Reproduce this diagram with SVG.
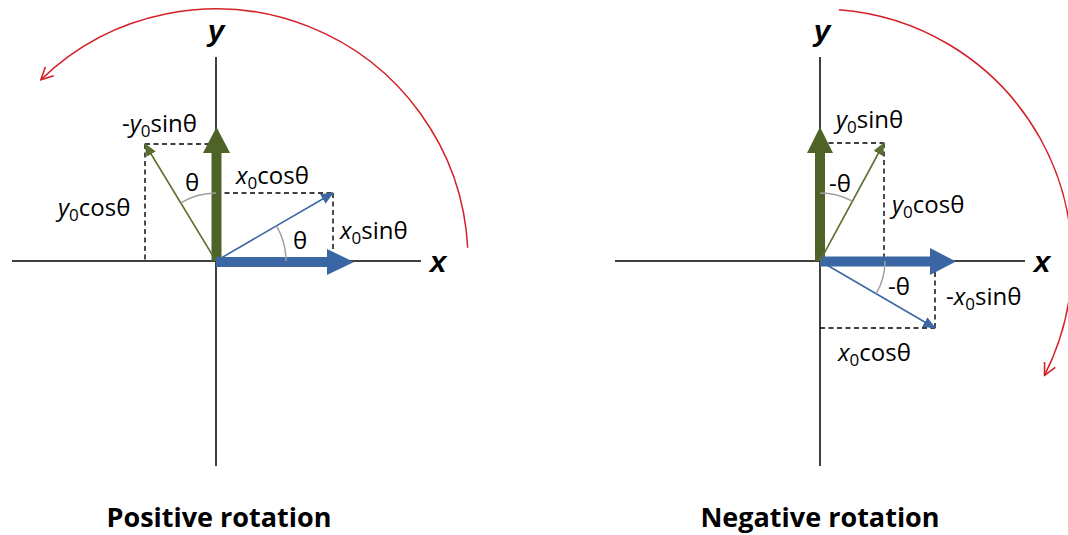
<svg xmlns="http://www.w3.org/2000/svg" width="1068" height="535" viewBox="0 0 1068 535">
<style>
.axis{stroke:#000;stroke-width:1.5;fill:none}
.dash{stroke:#000;stroke-width:1.4;stroke-dasharray:5,3.5;fill:none}
.ang{stroke:#a0a0a0;stroke-width:1.5;fill:none}
.rot{stroke:#d42027;stroke-width:1.5;fill:none;marker-end:url(#redhead)}
.gthin{stroke:#5b7030;stroke-width:1.6;marker-end:url(#ghead)}
.bthin{stroke:#3d68a3;stroke-width:1.6;marker-end:url(#bhead)}
.green{fill:#4f6228}
.blue{fill:#3a66a3}
.lbl{font-family:"Open Sans","DejaVu Sans",sans-serif;font-size:24px;fill:#000}
.sub{font-size:17px}
.ax{font-family:"Liberation Sans",Arial,sans-serif;font-size:30px;font-weight:bold;font-style:italic;fill:#000}
.title{font-family:"Open Sans","DejaVu Sans",sans-serif;font-size:27px;font-weight:bold;fill:#000;text-anchor:middle}
</style>
<defs>
<marker id="redhead" viewBox="0 0 14 14" refX="13" refY="7" markerUnits="userSpaceOnUse" markerWidth="14" markerHeight="14" orient="auto">
<path d="M1,1 L13,7 L1,13" fill="none" stroke="#d42027" stroke-width="1.6"/>
</marker>
<marker id="ghead" viewBox="0 0 12 10" refX="11" refY="5" markerUnits="userSpaceOnUse" markerWidth="13" markerHeight="11" orient="auto">
<path d="M0,0 L12,5 L0,10 z" fill="#5b7030"/>
</marker>
<marker id="bhead" viewBox="0 0 12 10" refX="11" refY="5" markerUnits="userSpaceOnUse" markerWidth="13" markerHeight="11" orient="auto">
<path d="M0,0 L12,5 L0,10 z" fill="#3d68a3"/>
</marker>
</defs>
<rect width="1068" height="535" fill="#fff"/>

<g id="positive">
<g id="pos-axes">
<line class="axis" x1="12" y1="261" x2="421" y2="261"/>
<line class="axis" x1="216" y1="57" x2="216" y2="466"/>
<text class="ax" x="216" y="41" text-anchor="middle">y</text>
<text class="ax" x="438" y="272" text-anchor="middle">x</text>
</g>
<g id="pos-dashes">
<path class="dash" d="M145,144 H216 M145,144 V261"/>
<path class="dash" d="M216,193 H333 M333,193 V261"/>
</g>
<g id="pos-vectors">
<rect class="green" x="211.5" y="152" width="10" height="109"/>
<polygon class="green" points="203,153 230,153 216.5,127"/>
<rect class="blue" x="216" y="257" width="112" height="10"/>
<polygon class="blue" points="327,249 327,275 354,262"/>
<line class="gthin" x1="216" y1="261" x2="145" y2="144"/>
<line class="bthin" x1="216" y1="261" x2="333" y2="193"/>
</g>
<g id="pos-angles">
<path class="ang" d="M216,193 A68,68 0 0 0 180.8,202.9"/>
<path class="ang" d="M286,261 A70,70 0 0 0 276.5,225.8"/>
</g>
<g id="pos-labels">
<text class="lbl" x="122" y="132">-<tspan font-style="italic">y</tspan><tspan class="sub" dy="5">0</tspan><tspan dy="-5">sinθ</tspan></text>
<text class="lbl" x="236" y="184"><tspan font-style="italic">x</tspan><tspan class="sub" dy="5">0</tspan><tspan dy="-5">cosθ</tspan></text>
<text class="lbl" x="58" y="216"><tspan font-style="italic">y</tspan><tspan class="sub" dy="5">0</tspan><tspan dy="-5">cosθ</tspan></text>
<text class="lbl" x="340" y="239"><tspan font-style="italic">x</tspan><tspan class="sub" dy="5">0</tspan><tspan dy="-5">sinθ</tspan></text>
<text class="lbl" x="192" y="191" text-anchor="middle">θ</text>
<text class="lbl" x="300" y="249" text-anchor="middle">θ</text>
</g>
<path id="pos-rotation" class="rot" d="M467.7,247.8 A252,252 0 0 0 40.9,79.7"/>
<text class="title" x="219" y="527">Positive rotation</text>
</g>

<g id="negative">
<g id="neg-axes">
<line class="axis" x1="615" y1="261" x2="1025" y2="261"/>
<line class="axis" x1="820" y1="57" x2="820" y2="466"/>
<text class="ax" x="822" y="41" text-anchor="middle">y</text>
<text class="ax" x="1042" y="272" text-anchor="middle">x</text>
</g>
<g id="neg-dashes">
<path class="dash" d="M820,143 H884 M884,143 V261"/>
<path class="dash" d="M935,272 V328 M820,328 H935"/>
</g>
<g id="neg-vectors">
<rect class="green" x="815" y="152" width="10" height="109"/>
<polygon class="green" points="807,153 833,153 820,127"/>
<rect class="blue" x="820" y="256.5" width="111" height="10"/>
<polygon class="blue" points="930,248 930,275 956,261.5"/>
<line class="gthin" x1="820" y1="261" x2="884" y2="143"/>
<line class="bthin" x1="820" y1="261" x2="935" y2="328"/>
</g>
<g id="neg-angles">
<path class="ang" d="M820,193 A68,68 0 0 1 852.4,201.2"/>
<path class="ang" d="M885,261 A65,65 0 0 1 876.2,293.7"/>
</g>
<g id="neg-labels">
<text class="lbl" x="836" y="128"><tspan font-style="italic">y</tspan><tspan class="sub" dy="5">0</tspan><tspan dy="-5">sinθ</tspan></text>
<text class="lbl" x="829" y="192">-θ</text>
<text class="lbl" x="892" y="213"><tspan font-style="italic">y</tspan><tspan class="sub" dy="5">0</tspan><tspan dy="-5">cosθ</tspan></text>
<text class="lbl" x="888" y="295">-θ</text>
<text class="lbl" x="946" y="305">-<tspan font-style="italic">x</tspan><tspan class="sub" dy="5">0</tspan><tspan dy="-5">sinθ</tspan></text>
<text class="lbl" x="838" y="361"><tspan font-style="italic">x</tspan><tspan class="sub" dy="5">0</tspan><tspan dy="-5">cosθ</tspan></text>
</g>
<path id="neg-rotation" class="rot" d="M838.9,9.7 A252,252 0 0 1 1044.5,375.4"/>
<text class="title" x="820" y="527">Negative rotation</text>
</g>
</svg>
